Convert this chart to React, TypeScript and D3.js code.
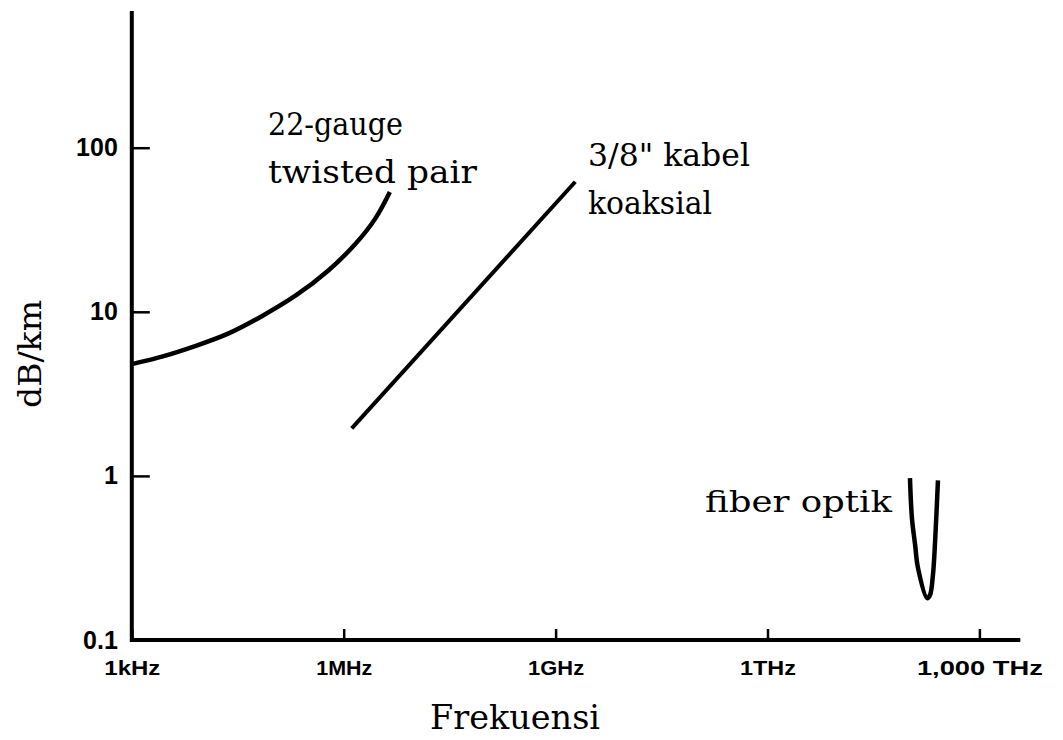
import React, { useEffect, useRef } from 'react';
import * as d3 from 'd3';

// frequency in Hz, attenuation in dB/km
const twistedFreq = [1e3, 2.7e3, 8.1e3, 2.4e4, 7.0e4, 2.1e5, 6.3e5, 1.5e6, 2.9e6, 4.5e6];
const twistedLoss = [4.8, 5.3, 6.2, 7.3, 9.4, 12.4, 17.8, 25.9, 36.8, 53.7];

const coaxFreq = [1.3e6, 1.9e9];
const coaxLoss = [1.95, 62];

const fiberFreq = [1.04e14, 1.11e14, 1.23e14, 1.35e14, 1.82e14, 2.0e14, 2.2e14, 2.36e14, 2.59e14];
const fiberLoss = [0.97, 0.55, 0.38, 0.275, 0.18, 0.188, 0.25, 0.4, 0.94];

const xTickValues = [1e3, 1e6, 1e9, 1e12, 1e15];
const xTickLabels = ['1kHz', '1MHz', '1GHz', '1THz', '1,000 THz'];
const yTickValues = [0.1, 1, 10, 100];
const yTickLabels = ['0.1', '1', '10', '100'];

const twistedLabel = ['22-gauge', 'twisted pair'];
const coaxLabel = ['3/8" kabel', 'koaksial'];
const fiberLabel = 'fiber optik';
const xTitle = 'Frekuensi';
const yTitle = 'dB/km';

const xMax = 3.8e15;
const yMax = 680;

export default function App() {
  const svgRef = useRef<SVGSVGElement>(null);

  useEffect(() => {
    if (!svgRef.current) return;
    const svg = d3.select(svgRef.current);
    svg.selectAll('*').remove();

    const x = d3.scaleLog().domain([1e3, 1e15]).range([131.8, 979.4]);
    const y = d3.scaleLog().domain([0.1, 100]).range([640, 147.7]);

    const serif = '"DejaVu Serif", "Liberation Serif", serif';
    const tickFont = '"Liberation Sans Narrow", "Liberation Sans", Arial, sans-serif';

    // axis lines
    svg.append('line')
      .attr('x1', x(1e3)).attr('x2', x(xMax))
      .attr('y1', y(0.1)).attr('y2', y(0.1))
      .attr('stroke', '#000').attr('stroke-width', 4);
    svg.append('line')
      .attr('x1', x(1e3)).attr('x2', x(1e3))
      .attr('y1', y(0.1) + 2).attr('y2', y(yMax))
      .attr('stroke', '#000').attr('stroke-width', 4);

    // x ticks
    const gx = svg.append('g')
      .attr('transform', `translate(0,${y(0.1)})`)
      .call(d3.axisBottom(x)
        .tickValues(xTickValues)
        .tickSize(-11)
        .tickSizeOuter(0)
        .tickFormat((_d, i) => xTickLabels[i]));
    gx.select('.domain').remove();
    gx.selectAll('.tick line').attr('stroke', '#000').attr('stroke-width', 2.5);
    gx.selectAll<SVGTextElement, number>('.tick text')
      .attr('y', 28)
      .attr('dy', '0.35em')
      .attr('fill', '#000')
      .style('font-family', tickFont)
      .style('font-weight', 'bold')
      .style('font-size', '21px')
      .attr('textLength', (_d, i) => xTickLabels[i].length * 14)
      .attr('lengthAdjust', 'spacingAndGlyphs');

    // y ticks
    const gy = svg.append('g')
      .attr('transform', `translate(${x(1e3)},0)`)
      .call(d3.axisLeft(y)
        .tickValues(yTickValues)
        .tickSize(-18)
        .tickSizeOuter(0)
        .tickPadding(14)
        .tickFormat((_d, i) => yTickLabels[i]));
    gy.select('.domain').remove();
    gy.selectAll('.tick line').attr('stroke', '#000').attr('stroke-width', 2.5);
    gy.selectAll('.tick text')
      .attr('fill', '#000')
      .style('font-family', tickFont)
      .style('font-weight', 'bold')
      .style('font-size', '25px');

    const line = d3.line<[number, number]>()
      .x(d => x(d[0]))
      .y(d => y(d[1]));

    // twisted pair
    svg.append('path')
      .datum(d3.zip(twistedFreq, twistedLoss) as [number, number][])
      .attr('d', line.curve(d3.curveBasis))
      .attr('fill', 'none')
      .attr('stroke', '#000')
      .attr('stroke-width', 4.5);

    // coax
    svg.append('path')
      .datum(d3.zip(coaxFreq, coaxLoss) as [number, number][])
      .attr('d', line.curve(d3.curveLinear))
      .attr('fill', 'none')
      .attr('stroke', '#000')
      .attr('stroke-width', 4);

    // fiber
    svg.append('path')
      .datum(d3.zip(fiberFreq, fiberLoss) as [number, number][])
      .attr('d', line.curve(d3.curveCatmullRom))
      .attr('fill', 'none')
      .attr('stroke', '#000')
      .attr('stroke-width', 4.5)
      .attr('stroke-linejoin', 'round');

    const label = (txt: string, tx: number, ty: number, len: number, size = 31) =>
      svg.append('text')
        .attr('x', tx).attr('y', ty)
        .attr('textLength', len)
        .attr('lengthAdjust', 'spacingAndGlyphs')
        .style('font-family', serif)
        .style('font-size', `${size}px`)
        .attr('fill', '#000')
        .text(txt);

    label(twistedLabel[0], 268, 135, 135);
    label(twistedLabel[1], 268, 183, 209);
    label(coaxLabel[0], 588, 166, 162);
    label(coaxLabel[1], 588, 214, 124);
    label(fiberLabel, 705, 512, 187, 29);
    label(xTitle, 430, 729, 170, 34);

    svg.append('text')
      .attr('transform', 'translate(41,354) rotate(-90)')
      .attr('text-anchor', 'middle')
      .attr('textLength', 108)
      .attr('lengthAdjust', 'spacingAndGlyphs')
      .style('font-family', serif)
      .style('font-size', '32px')
      .attr('fill', '#000')
      .text(yTitle);
  }, []);

  return (
    <svg
      ref={svgRef}
      width={1063}
      height={740}
      style={{ position: 'absolute', left: 0, top: 0, background: '#fff' }}
    />
  );
}
